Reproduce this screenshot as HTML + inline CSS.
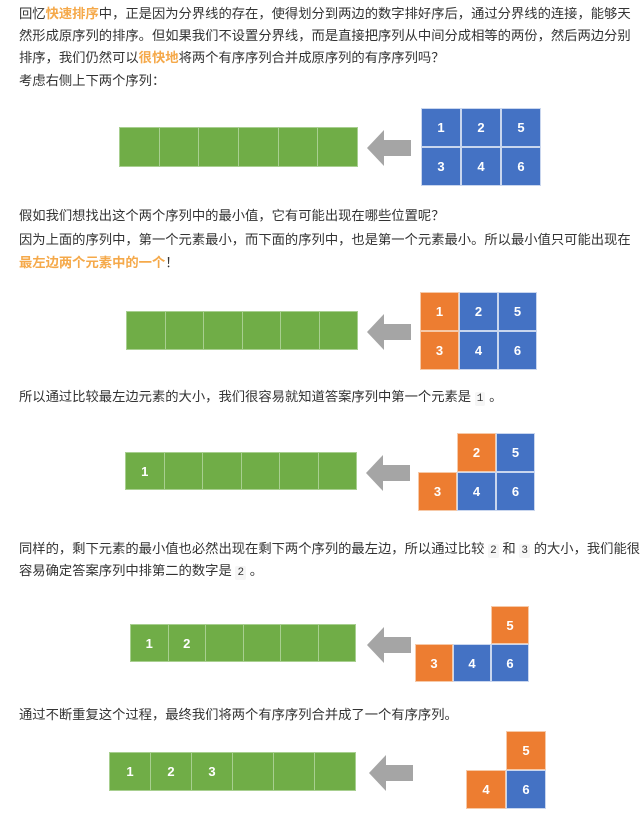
<!DOCTYPE html>
<html><head><meta charset="utf-8">
<style>
html,body{margin:0;padding:0;background:#fff;}
body{width:642px;height:817px;position:relative;overflow:hidden;font-family:"Liberation Sans","Noto Sans CJK SC",sans-serif;color:#333;font-size:13.3px;}
.t{position:absolute;left:19px;white-space:nowrap;line-height:22px;}
.hl{color:#f5a94a;font-weight:bold;}
code{font-family:"Liberation Mono",monospace;font-size:11px;background:#f6f6f6;padding:1px 2px;border-radius:2px;}
.cell{position:absolute;box-sizing:border-box;border:1px solid #d9e8d0;color:#fff;font-weight:bold;font-size:13px;display:flex;align-items:center;justify-content:center;font-family:"Liberation Sans",sans-serif;}
.g{background:#70ad47;border-color:#a8cf90;}
.b{background:#4472c4;border-color:#c9d6ee;}
.o{background:#ed7d31;border-color:#f6c9a8;}
svg.arrow{position:absolute;}
</style></head><body>
<div class="t" style="top:3px">回忆<span class="hl">快速排序</span>中，正是因为分界线的存在，使得划分到两边的数字排好序后，通过分界线的连接，能够天</div>
<div class="t" style="top:25px">然形成原序列的排序。但如果我们不设置分界线，而是直接把序列从中间分成相等的两份，然后两边分别</div>
<div class="t" style="top:47px">排序，我们仍然可以<span class="hl">很快地</span>将两个有序序列合并成原序列的有序序列吗？</div>
<div class="t" style="top:70px">考虑右侧上下两个序列：</div>
<div class="t" style="top:205px">假如我们想找出这个两个序列中的最小值，它有可能出现在哪些位置呢？</div>
<div class="t" style="top:229px">因为上面的序列中，第一个元素最小，而下面的序列中，也是第一个元素最小。所以最小值只可能出现在</div>
<div class="t" style="top:252px"><span class="hl">最左边两个元素中的一个</span>！</div>
<div class="t" style="top:386px">所以通过比较最左边元素的大小，我们很容易就知道答案序列中第一个元素是 <code>1</code> 。</div>
<div class="t" style="top:538px">同样的，剩下元素的最小值也必然出现在剩下两个序列的最左边，所以通过比较 <code>2</code> 和 <code>3</code> 的大小，我们能很</div>
<div class="t" style="top:560px">容易确定答案序列中排第二的数字是 <code>2</code> 。</div>
<div class="t" style="top:704px">通过不断重复这个过程，最终我们将两个有序序列合并成了一个有序序列。</div>
<div id="diagrams"></div>
<script>
// Each step: green result bar, arrow, remaining pieces
const steps = [
 {gx:119,gy:127,gw:238,gh:40, ax:367,ay:130, px:421,py:108,pw:40,ph:39},
 {gx:126,gy:311,gw:231,gh:39, ax:367,ay:314, px:420,py:292,pw:39,ph:39},
 {gx:125,gy:452,gw:231,gh:38, ax:366,ay:455, px:418,py:433,pw:39,ph:39},
 {gx:130,gy:624,gw:225,gh:38, ax:367,ay:627, px:415,py:606,pw:38,ph:38},
 {gx:109,gy:752,gw:246,gh:39, ax:369,ay:755, px:466,py:731,pw:40,ph:39}
];
const greenVals = [[], [], ["1"], ["1","2"], ["1","2","3"]];
// pieces grid: [row][col] values, "" = empty
const pieceVals = [
 [["1","2","5"],["3","4","6"]],
 [["1","2","5"],["3","4","6"]],
 [["","2","5"],["3","4","6"]],
 [["","","5"],["3","4","6"]],
 [["","5"],["4","6"]]
];
const pieceColors = [
 [["b","b","b"],["b","b","b"]],
 [["o","b","b"],["o","b","b"]],
 [["","o","b"],["o","b","b"]],
 [["","","o"],["o","b","b"]],
 [["","o"],["o","b"]]
];
const root = document.getElementById('diagrams');
steps.forEach((s,i)=>{
  const cw = s.gw/6;
  for(let k=0;k<6;k++){
    const c=document.createElement('div');
    c.className='cell g';
    
    
    c.style.cssText=`left:${s.gx+k*cw}px;top:${s.gy}px;width:${cw+1}px;height:${s.gh}px;`;
    c.textContent=greenVals[i][k]||'';
    root.appendChild(c);
  }
  const a=document.createElementNS('http://www.w3.org/2000/svg','svg');
  a.setAttribute('class','arrow');
  
  
  a.setAttribute('width','44');a.setAttribute('height','36');
  a.style.left=s.ax+'px';a.style.top=s.ay+'px';
  a.innerHTML='<polygon points="0,18 17,0 17,10 44,10 44,26 17,26 17,36" fill="#a5a5a5"/>';
  root.appendChild(a);
  pieceVals[i].forEach((row,r)=>row.forEach((v,col)=>{
    if(!v) return;
    const c=document.createElement('div');
    c.className='cell '+pieceColors[i][r][col];
    
    
    c.style.cssText=`left:${s.px+col*s.pw}px;top:${s.py+r*s.ph}px;width:${s.pw}px;height:${s.ph}px;`;
    c.textContent=v;
    root.appendChild(c);
  }));
});
</script>
</body></html>
